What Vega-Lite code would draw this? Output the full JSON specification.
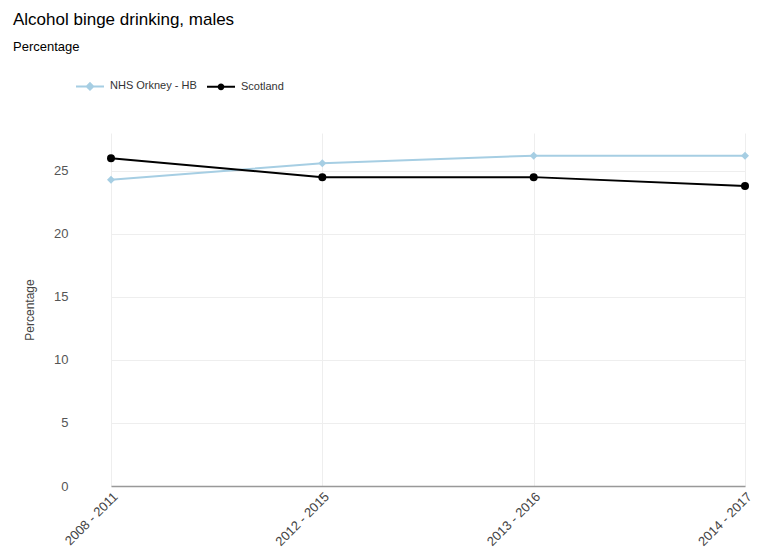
{
  "$schema": "https://vega.github.io/schema/vega-lite/v6.json",
  "width": 706,
  "height": 353,
  "autosize": "none",
  "padding": {"left": 71, "top": 133, "right": 0, "bottom": 65},
  "background": "white",
  "title": {
    "text": "Alcohol binge drinking, males",
    "subtitle": "Percentage",
    "anchor": "start",
    "frame": "group",
    "dx": -58,
    "offset": 16,
    "font": "Liberation Sans",
    "fontSize": 17,
    "fontWeight": "normal",
    "color": "#000000",
    "subtitleFont": "Liberation Sans",
    "subtitleFontSize": 13,
    "subtitleColor": "#000000",
    "subtitlePadding": 12
  },
  "data": {
    "values": [
      {"period": "2008 - 2011", "area": "NHS Orkney - HB", "value": 24.3},
      {"period": "2012 - 2015", "area": "NHS Orkney - HB", "value": 25.6},
      {"period": "2013 - 2016", "area": "NHS Orkney - HB", "value": 26.2},
      {"period": "2014 - 2017", "area": "NHS Orkney - HB", "value": 26.2},
      {"period": "2008 - 2011", "area": "Scotland", "value": 26.0},
      {"period": "2012 - 2015", "area": "Scotland", "value": 24.5},
      {"period": "2013 - 2016", "area": "Scotland", "value": 24.5},
      {"period": "2014 - 2017", "area": "Scotland", "value": 23.8}
    ]
  },
  "encoding": {
    "x": {
      "field": "period",
      "type": "ordinal",
      "scale": {"type": "point", "range": [40, 674], "padding": 0},
      "axis": {
        "title": null,
        "labelAngle": -45,
        "labelAlign": "right",
        "labelBaseline": "top",
        "labelFont": "Liberation Sans",
        "labelFontSize": 13,
        "labelColor": "#444444",
        "labelPadding": 4,
        "domainColor": "#999999",
        "domainWidth": 1.5,
        "ticks": false,
        "grid": true,
        "gridColor": "#eeeeee"
      }
    },
    "y": {
      "field": "value",
      "type": "quantitative",
      "scale": {"domain": [0, 28], "nice": false},
      "axis": {
        "title": "Percentage",
        "titleFont": "Liberation Sans",
        "titleFontSize": 12,
        "titleFontWeight": "normal",
        "titleColor": "#444444",
        "titlePadding": 17,
        "values": [0, 5, 10, 15, 20, 25],
        "labelFont": "Liberation Sans",
        "labelFontSize": 13,
        "labelColor": "#555555",
        "labelPadding": 3,
        "domain": false,
        "ticks": false,
        "gridColor": "#eeeeee"
      }
    },
    "color": {
      "field": "area",
      "type": "nominal",
      "scale": {"domain": ["NHS Orkney - HB", "Scotland"], "range": ["#a6cee3", "#000000"]},
      "legend": {
        "title": null,
        "orient": "none",
        "legendX": 4,
        "legendY": -62,
        "direction": "horizontal",
        "labelFont": "Liberation Sans",
        "labelFontSize": 11,
        "labelColor": "#333333",
        "symbolSize": 784,
        "labelOffset": 5,
        "columnPadding": 6,
        "encode": {
          "symbols": {
            "update": {
              "shape": [
                {"test": "datum.value === 'Scotland'", "value": "M-1,0H1M0.17,0A0.17,0.17,0,1,1,-0.17,0A0.17,0.17,0,1,1,0.17,0Z"},
                {"value": "M-1,0H1M0,-0.23L0.23,0L0,0.23L-0.23,0Z"}
              ],
              "size": {"value": 784},
              "stroke": {"scale": "color", "field": "value"},
              "strokeWidth": {"value": 2},
              "opacity": {"value": 1}
            }
          }
        }
      }
    }
  },
  "layer": [
    {"mark": {"type": "line", "strokeWidth": 2}},
    {
      "mark": {"type": "point", "filled": true, "size": 64, "opacity": 1},
      "encoding": {
        "shape": {
          "condition": {"test": "datum.area === 'Scotland'", "value": "circle"},
          "value": "diamond"
        }
      }
    }
  ],
  "config": {"view": {"stroke": null}}
}
